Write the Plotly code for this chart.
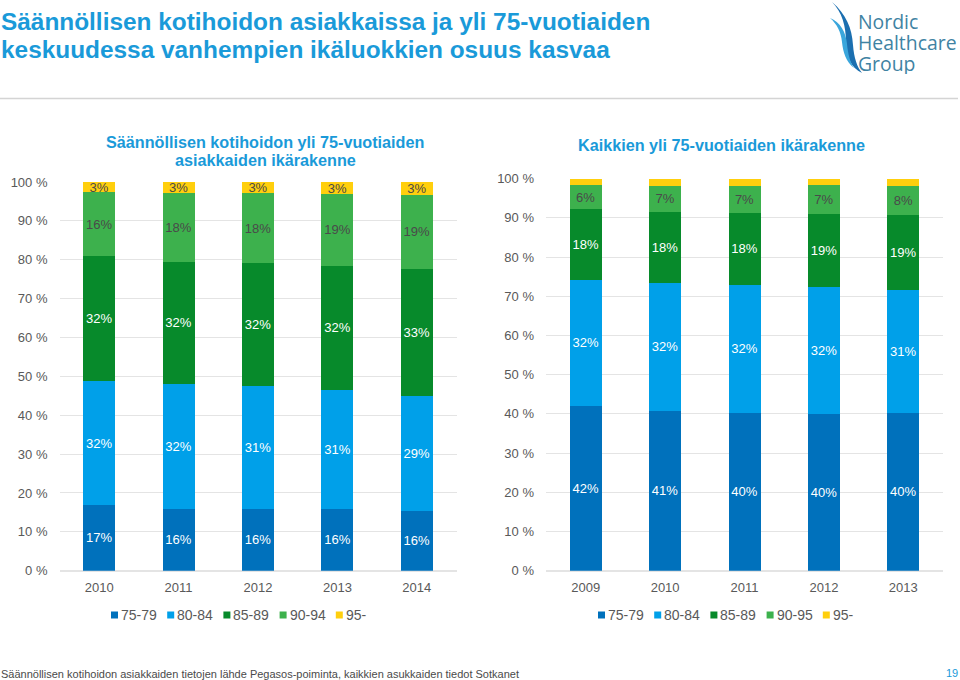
import plotly.graph_objects as go

W, H = 960, 680

# left chart: home care clients
left_years = ["2010", "2011", "2012", "2013", "2014"]
left_75_79 = [16.9, 15.8, 15.9, 15.8, 15.4]
left_80_84 = [31.8, 32.2, 31.6, 30.6, 29.5]
left_85_89 = [32.3, 31.5, 31.6, 32.1, 32.7]
left_90_94 = [16.3, 17.6, 18.0, 18.4, 19.1]
left_95 = [2.7, 2.9, 2.9, 3.1, 3.3]
left_labels = [
    ["17%", "16%", "16%", "16%", "16%"],
    ["32%", "32%", "31%", "31%", "29%"],
    ["32%", "32%", "32%", "32%", "33%"],
    ["16%", "18%", "18%", "19%", "19%"],
    ["3%", "3%", "3%", "3%", "3%"],
]
left_names = ["75-79", "80-84", "85-89", "90-94", "95-"]

# right chart: whole population over 75
right_years = ["2009", "2010", "2011", "2012", "2013"]
right_75_79 = [42.1, 40.8, 40.3, 40.0, 40.3]
right_80_84 = [32.1, 32.7, 32.6, 32.4, 31.3]
right_85_89 = [18.0, 18.1, 18.4, 18.6, 19.1]
right_90_95 = [6.1, 6.6, 6.9, 7.4, 7.5]
right_95 = [1.7, 1.8, 1.8, 1.6, 1.8]
right_labels = [
    ["42%", "41%", "40%", "40%", "40%"],
    ["32%", "32%", "32%", "32%", "31%"],
    ["18%", "18%", "18%", "19%", "19%"],
    ["6%", "7%", "7%", "7%", "8%"],
    ["", "", "", "", ""],
]
right_names = ["75-79", "80-84", "85-89", "90-95", "95-"]

y_ticks = [0, 10, 20, 30, 40, 50, 60, 70, 80, 90, 100]
y_ticktext = [f"{t} %" for t in y_ticks]

colors = ["#0071BC", "#00A0E9", "#078A2B", "#3DB14D", "#FFCF0D"]
label_colors = ["white", "white", "white", "#4a4a4a", "#4a4a4a"]
BLUE = "#1A9AD9"
GREY = "#595959"
FONT = "Liberation Sans"


def px(x):
    return x / W


def py(y):
    return 1 - y / H


fig = go.Figure()

left_series = [left_75_79, left_80_84, left_85_89, left_90_94, left_95]
right_series = [right_75_79, right_80_84, right_85_89, right_90_95, right_95]

for i, vals in enumerate(left_series):
    fig.add_trace(go.Bar(x=left_years, y=vals, name=left_names[i], text=left_labels[i],
                         marker=dict(color=colors[i], line_width=0),
                         textposition="inside", insidetextanchor="middle",
                         textangle=0, constraintext="none",
                         textfont=dict(color=label_colors[i], size=13, family=FONT),
                         xaxis="x", yaxis="y", showlegend=False))
for i, vals in enumerate(right_series):
    fig.add_trace(go.Bar(x=right_years, y=vals, name=right_names[i], text=right_labels[i],
                         marker=dict(color=colors[i], line_width=0),
                         textposition="inside", insidetextanchor="middle",
                         textangle=0, constraintext="none",
                         textfont=dict(color=label_colors[i], size=13, family=FONT),
                         xaxis="x2", yaxis="y2", showlegend=False))

axis_x = dict(type="category", showgrid=False, showline=False, ticks="", zeroline=False,
              ticklabelstandoff=7, tickfont=dict(size=13, color=GREY, family=FONT))
axis_y = dict(range=[0, 100], tickvals=y_ticks, ticktext=y_ticktext, showgrid=True,
              gridcolor="#E4E4E4", gridwidth=1, zeroline=True, zerolinecolor="#E4E4E4",
              showline=False, ticks="", ticklabelstandoff=11,
              tickfont=dict(size=13, color=GREY, family=FONT))

fig.update_layout(
    width=W, height=H, margin=dict(l=0, r=0, t=0, b=0, autoexpand=False),
    paper_bgcolor="white", plot_bgcolor="white",
    barmode="stack", bargap=0.597, showlegend=False,
    font=dict(family=FONT),
    xaxis=dict(axis_x, domain=[px(59.5), px(456.5)], anchor="y"),
    yaxis=dict(axis_y, domain=[py(570.7), py(182)], anchor="x"),
    xaxis2=dict(axis_x, domain=[px(546), px(943)], anchor="y2"),
    yaxis2=dict(axis_y, domain=[py(570.7), py(178.7)], anchor="x2"),
)


def text(x, y, s, size, color, anchor="left", bold=False, family=FONT, height=None):
    fig.add_annotation(x=px(x), y=py(y), xref="paper", yref="paper", text=f"<b>{s}</b>" if bold else s,
                       showarrow=False, xanchor=anchor, yanchor="middle", align="left",
                       borderpad=0, borderwidth=0, height=height,
                       font=dict(size=size, color=color, family=family))


# headline, sub titles, footer
text(1, 21, "Säännöllisen kotihoidon asiakkaissa ja yli 75-vuotiaiden", 24.4, BLUE, bold=True)
text(1, 50, "keskuudessa vanhempien ikäluokkien osuus kasvaa", 24.4, BLUE, bold=True)
text(265, 142, "Säännöllisen kotihoidon yli 75-vuotiaiden", 16.2, BLUE, "center", bold=True)
text(265, 160, "asiakkaiden ikärakenne", 16.2, BLUE, "center", bold=True)
text(721, 145, "Kaikkien yli 75-vuotiaiden ikärakenne", 16.2, BLUE, "center", bold=True)
text(1, 674, "Säännöllisen kotihoidon asiakkaiden tietojen lähde Pegasos-poiminta, kaikkien asukkaiden tiedot Sotkanet", 11, "#4a4a4a")
text(952, 673, "19", 11, BLUE, "center")

# hand-placed legends, the built-in swatches are too wide for this spacing
for start, names in ((111, left_names), (598, right_names)):
    for i, nm in enumerate(names):
        x0 = start + i * 56.2
        fig.add_shape(type="rect", xref="paper", yref="paper", line_width=0, fillcolor=colors[i],
                      x0=px(x0), x1=px(x0 + 7), y0=py(618.5), y1=py(611.5))
        text(x0 + 10, 615, nm, 14, GREY)

# divider under the headline
fig.add_shape(type="line", xref="paper", yref="paper", x0=0, x1=px(958), y0=py(98.5), y1=py(98.5),
              line=dict(color="#D4D4D4", width=1.5))

# logo
text(858, 21, "Nordic", 19.4, "#3F83A3", family="Open Sans", height=21)
text(858, 42, "Healthcare", 19.4, "#3F83A3", family="Open Sans", height=21)
text(858, 63, "Group", 19.4, "#3F83A3", family="Open Sans", height=21)
swooshes = [
    ("M 832 2 C 846 14 852 28 853 45 C 854 58 857 67 862 73 C 851 68 846 56 846 42 C 846 26 842 12 832 2 Z", "#1B6FB0"),
    ("M 830 18 C 840 22 846 32 847 44 C 848 54 850 62 854 68 C 846 62 843 52 842 42 C 841 32 837 24 830 18 Z", "#3AA6DC"),
]
for path, col in swooshes:
    out = []
    is_x = True
    for tok in path.split():
        if tok.isalpha():
            out.append(tok)
        else:
            out.append(f"{px(float(tok)):.5f}" if is_x else f"{py(float(tok)):.5f}")
            is_x = not is_x
    fig.add_shape(type="path", xref="paper", yref="paper", path=" ".join(out), fillcolor=col, line_width=0)

fig.write_html("out.html", post_script="document.body.style.margin='0';", config={"displayModeBar": False})
